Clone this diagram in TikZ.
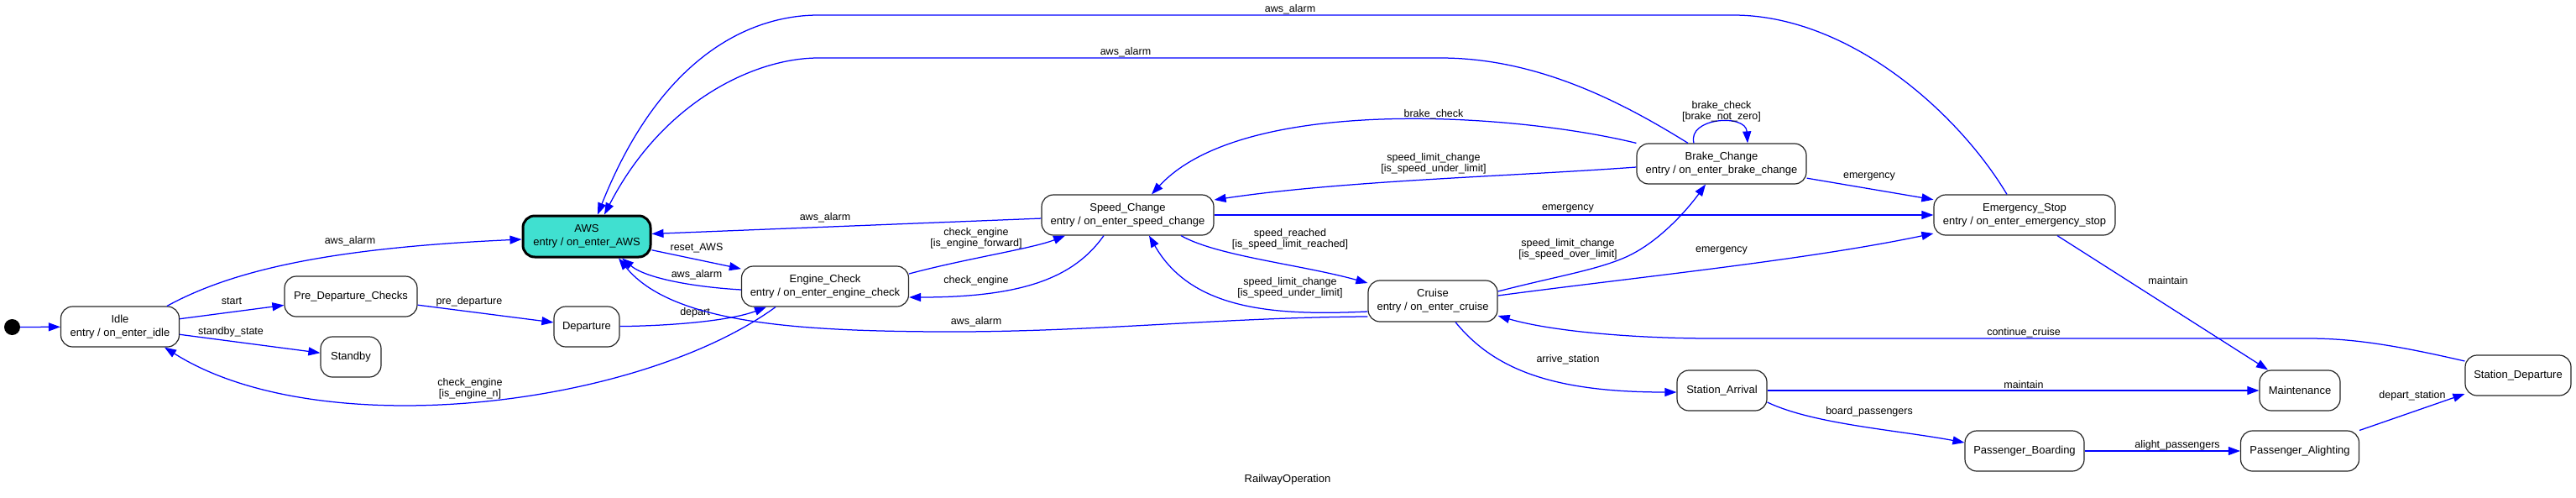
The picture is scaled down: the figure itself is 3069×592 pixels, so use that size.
\documentclass[tikz,border=0pt]{standalone}
\usepackage{fontspec}
\setmainfont{Liberation Sans}
\usetikzlibrary{arrows.meta,calc}
\definecolor{edgeblue}{RGB}{0,0,255}
\definecolor{awsfill}{RGB}{64,224,208}
\begin{document}
\begin{tikzpicture}[x=1pt,y=-1pt,
  st/.style={draw=black!85, fill=white, rounded corners=14pt, line width=1.2pt, minimum height=48pt, inner sep=0pt, align=center, font=\fontsize{13}{16}\selectfont},
  e/.style={draw=edgeblue, line width=1.25pt, -{Triangle[length=14pt,width=10pt]}},
  lbl/.style={font=\fontsize{12.5}{13}\selectfont, align=center, inner sep=0pt, text=black},
]
\useasboundingbox (0,0) rectangle (3069,592);

% nodes
\node[circle, fill=black, minimum size=19pt, inner sep=0pt] (init) at (14.5,389.5) {};
\node[st, minimum width=141pt] (Idle) at (143,389) {Idle\\entry / on\_enter\_idle};
\node[st, minimum width=158pt] (PDC) at (418,353) {Pre\_Departure\_Checks};
\node[st, minimum width=72pt] (Standby) at (418,425) {Standby};
\node[st, minimum width=152pt, minimum height=49pt, fill=awsfill, line width=3pt, draw=black] (AWS) at (699,281.5) {AWS\\entry / on\_enter\_AWS};
\node[st, minimum width=78pt] (Departure) at (699,389) {Departure};
\node[st, minimum width=199pt] (EC) at (983,341) {Engine\_Check\\entry / on\_enter\_engine\_check};
\node[st, minimum width=205pt] (SC) at (1343.5,256) {Speed\_Change\\entry / on\_enter\_speed\_change};
\node[st, minimum width=154pt, minimum height=49pt] (Cruise) at (1707,358.5) {Cruise\\entry / on\_enter\_cruise};
\node[st, minimum width=202pt] (BC) at (2051,195) {Brake\_Change\\entry / on\_enter\_brake\_change};
\node[st, minimum width=216pt] (ES) at (2412,256) {Emergency\_Stop\\entry / on\_enter\_emergency\_stop};
\node[st, minimum width=107pt] (SA) at (2051.5,465) {Station\_Arrival};
\node[st, minimum width=96pt] (Maint) at (2740,465) {Maintenance};
\node[st, minimum width=142pt] (PB) at (2412,537) {Passenger\_Boarding};
\node[st, minimum width=141pt] (PA) at (2740,537) {Passenger\_Alighting};
\node[st, minimum width=126pt] (SD) at (3000,447) {Station\_Departure};

% edges
\draw[e] (init) -- (Idle);
\draw[e] ([xshift=56pt]Idle.north) .. controls (280,320) and (400,295) .. (AWS) node[lbl] at (417,287) {aws\_alarm};
\draw[e] (Idle) -- (PDC) node[lbl] at (276,359) {start};
\draw[e] (Idle) -- (Standby) node[lbl] at (275,395) {standby\_state};
\draw[e] (PDC) -- (Departure) node[lbl] at (559,359) {pre\_departure};
\draw[e] (Departure) .. controls (800,388) and (870,382) .. ([xshift=-70pt]EC.south) node[lbl] at (828,372) {depart};
\draw[e] (AWS) -- (EC) node[lbl] at (830,295) {reset\_AWS};
\draw[e] ($(EC.west)+(0,4)$) .. controls (830,342) and (770,332) .. ([xshift=42pt]AWS.south) node[lbl] at (830,327) {aws\_alarm};
\draw[e] ($(EC.east)+(0,-15)$) .. controls (1150,308) and (1230,296) .. ([xshift=-74.5pt]SC.south) node[lbl] at (1163,284) {check\_engine\\{[}is\_engine\_forward{]}};
\draw[e] ([xshift=-28.5pt]SC.south) .. controls (1280,330) and (1220,354) .. ($(EC.east)+(0,13)$) node[lbl] at (1163,334) {check\_engine};
\draw[e] ([xshift=-59pt]EC.south) .. controls (760,485) and (380,530) .. ([xshift=53pt]Idle.south) node[lbl] at (560,463) {check\_engine\\{[}is\_engine\_n{]}};
\draw[e] (SC) -- (AWS) node[lbl] at (983,259) {aws\_alarm};
\draw[e] ($(Cruise.west)+(0,18.5)$) .. controls (1450,378) and (1300,396) .. (1117,395) .. controls (950,394) and (800,385) .. ([xshift=38pt]AWS.south) node[lbl] at (1163,383) {aws\_alarm};
\draw[e] ([xshift=63.5pt]SC.south) .. controls (1450,305) and (1550,315) .. (Cruise) node[lbl] at (1537,285) {speed\_reached\\{[}is\_speed\_limit\_reached{]}};
\draw[e] ($(Cruise.west)+(0,12.5)$) .. controls (1520,376) and (1420,370) .. ([xshift=25.5pt]SC.south) node[lbl] at (1537,343) {speed\_limit\_change\\{[}is\_speed\_under\_limit{]}};
\draw[e] ($(Cruise.east)+(0,-11.5)$) .. controls (1850,330) and (1900,322) .. (1935,307) .. controls (1975,290) and (2010,250) .. ([xshift=-19pt]BC.south) node[lbl] at (1868,297) {speed\_limit\_change\\{[}is\_speed\_over\_limit{]}};
\draw[e] ($(Cruise.east)+(0,-6.5)$) .. controls (1950,330) and (2150,310) .. ($(ES.west)+(0,22)$) node[lbl] at (2051,298) {emergency};
\draw[e] (BC.north west) .. controls (1800,134) and (1480,114) .. ([xshift=28.5pt]SC.north) node[lbl] at (1708,136) {brake\_check};
\draw[e] ($(BC.west)+(0,4)$) .. controls (1800,210) and (1600,215) .. ($(SC.east)+(0,-18)$) node[lbl] at (1708,195) {speed\_limit\_change\\{[}is\_speed\_under\_limit{]}};
\draw[e] ([xshift=-33pt]BC.north) .. controls (2010,140) and (2080,135) .. ([xshift=31pt]BC.north) node[lbl] at (2051,132.5) {brake\_check\\{[}brake\_not\_zero{]}};
\draw[e] (BC) -- (ES) node[lbl] at (2227,210) {emergency};
\draw[e] (SC) -- (ES) node[lbl] at (1868,248) {emergency};
\draw[e] ([xshift=-40pt]BC.north) .. controls (1930,120) and (1830,69) .. (1716,69) -- (975,69) .. controls (900,69) and (790,120) .. ([xshift=21pt]AWS.north) node[lbl] at (1341,62) {aws\_alarm};
\draw[e] ([xshift=-21pt]ES.north) .. controls (2330,130) and (2200,18) .. (2065,18) -- (975,18) .. controls (900,18) and (790,60) .. ([xshift=13pt]AWS.north) node[lbl] at (1537,11) {aws\_alarm};
\draw[e] ([xshift=39pt]ES.south) -- ([xshift=-38pt]Maint.north) node[lbl] at (2583,334) {maintain};
\draw[e] ($(SD.west)+(0,-17)$) .. controls (2850,410) and (2800,403) .. (2750,403) -- (2040,403) .. controls (1950,403) and (1850,395) .. ($(Cruise.east)+(0,17.5)$) node[lbl] at (2411,396) {continue\_cruise};
\draw[e] ([xshift=27pt]Cruise.south) .. controls (1780,440) and (1850,467) .. ($(SA.west)+(0,2)$) node[lbl] at (1868,428) {arrive\_station};
\draw[e] (SA) -- (Maint) node[lbl] at (2411,458) {maintain};
\draw[e] ($(SA.east)+(0,14)$) .. controls (2160,505) and (2260,512) .. ($(PB.west)+(0,-10)$) node[lbl] at (2227,490) {board\_passengers};
\draw[e] (PB) -- (PA) node[lbl] at (2594,530) {alight\_passengers};
\draw[e] (PA) -- (SD) node[lbl] at (2874,471) {depart\_station};

\node[lbl, font=\fontsize{13}{14}\selectfont] (title) at (1534,571) {RailwayOperation};
\end{tikzpicture}
\end{document}
